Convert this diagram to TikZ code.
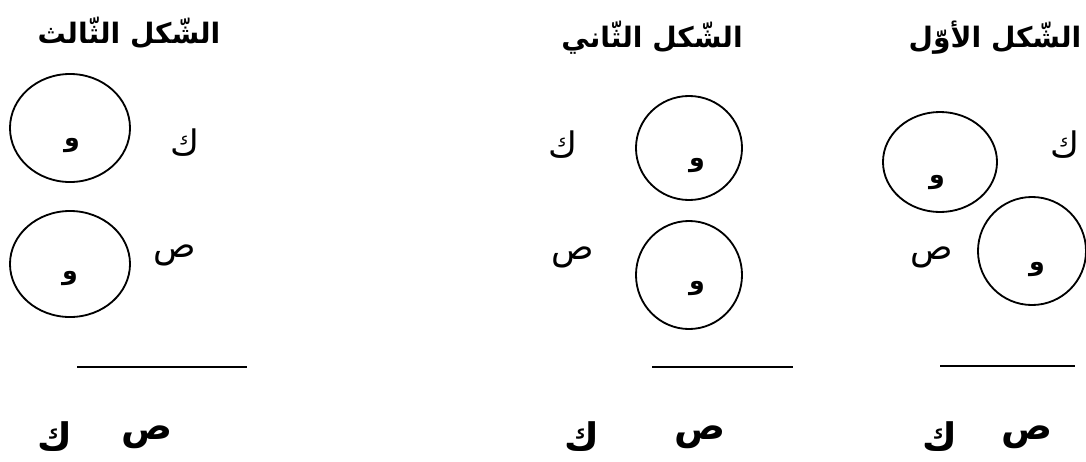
\documentclass[tikz,border=0pt]{standalone}
\usepackage{fontspec}
\usetikzlibrary{shapes.geometric}
\newfontfamily\arabicfont[Script=Arabic]{DejaVu Sans}
\TeXXeTstate=1
\newcommand{\artxt}[1]{\arabicfont\beginR #1\endR}

\begin{document}
\begin{tikzpicture}[x=0.025cm,y=-0.025cm,
  ring/.style={ellipse,draw,line width=1.3pt,inner sep=0pt},
  title/.style={font=\fontsize{20}{24}\selectfont\bfseries,inner sep=0pt},
  lbl/.style={font=\fontsize{25}{28}\selectfont,inner sep=0pt},
  ans/.style={font=\fontsize{27}{30}\selectfont\bfseries,inner sep=0pt},
  waw/.style={font=\fontsize{18}{21}\selectfont\bfseries,inner sep=0pt},
  blank/.style={line width=2pt}]
  \useasboundingbox (0,0) rectangle (1086,461);
  % titles
  \node[title] (t1) at (995,38) {\artxt{الشّكل الأوّل}};
  \node[title] (t2) at (652,38) {\artxt{الشّكل الثّاني}};
  \node[title] (t3) at (129,33) {\artxt{الشّكل الثّالث}};
  % first figure
  \node[ring,minimum width=2.85cm,minimum height=2.5cm] (c11) at (940,162) {};
  \node[ring,minimum width=2.7cm,minimum height=2.7cm] (c12) at (1032,251) {};
  \node[waw] (w11) at (937,183) {\artxt{و}};
  \node[waw] (w12) at (1037,270) {\artxt{و}};
  \node[lbl] (k1) at (1065,145) {\artxt{ك}};
  \node[lbl] (s1) at (932,257) {\artxt{ص}};
  \coordinate (a1) at (940,366);
  \coordinate (b1) at (1075,366);
  \draw[blank] (a1) -- (b1);
  \node[ans] (ks1) at (940,437) {\artxt{ك}};
  \node[ans] (ss1) at (1027,437) {\artxt{ص}};
  % second figure
  \node[ring,minimum width=2.65cm,minimum height=2.6cm] (c21) at (689,148) {};
  \node[ring,minimum width=2.65cm,minimum height=2.7cm] (c22) at (689,275) {};
  \node[waw] (w21) at (697,166) {\artxt{و}};
  \node[waw] (w22) at (697,289) {\artxt{و}};
  \node[lbl] (k2) at (563,145) {\artxt{ك}};
  \node[lbl] (s2) at (573,257) {\artxt{ص}};
  \coordinate (a2) at (652,367);
  \coordinate (b2) at (793,367);
  \draw[blank] (a2) -- (b2);
  \node[ans] (ks2) at (582,437) {\artxt{ك}};
  \node[ans] (ss2) at (700,437) {\artxt{ص}};
  % third figure
  \node[ring,minimum width=3.0cm,minimum height=2.7cm] (c31) at (70,128) {};
  \node[ring,minimum width=3.0cm,minimum height=2.65cm] (c32) at (70,264) {};
  \node[waw] (w31) at (72,146) {\artxt{و}};
  \node[waw] (w32) at (70,279) {\artxt{و}};
  \node[lbl] (k3) at (185,143) {\artxt{ك}};
  \node[lbl] (s3) at (175,255) {\artxt{ص}};
  \coordinate (a3) at (77,367);
  \coordinate (b3) at (247,367);
  \draw[blank] (a3) -- (b3);
  \node[ans] (ks3) at (55,437) {\artxt{ك}};
  \node[ans] (ss3) at (147,437) {\artxt{ص}};
\end{tikzpicture}
\end{document}
